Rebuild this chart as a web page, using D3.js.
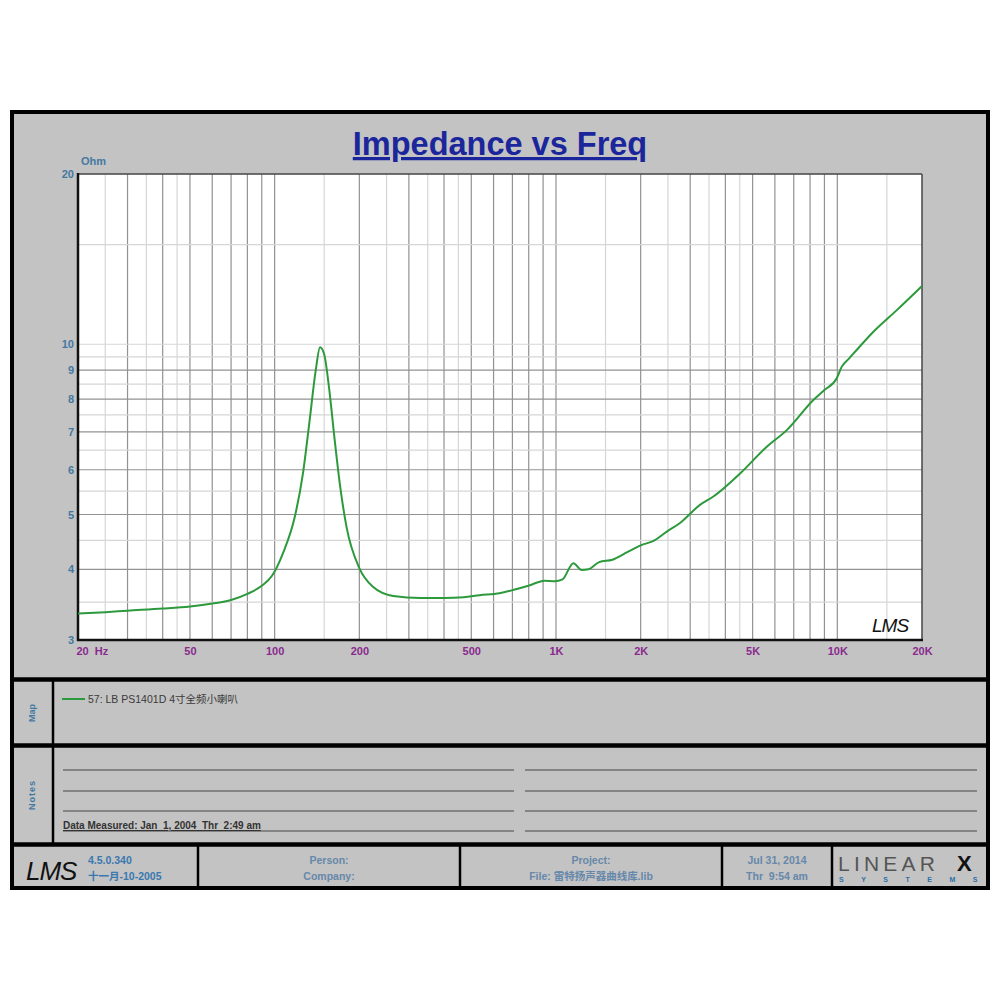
<!DOCTYPE html>
<html>
<head>
<meta charset="utf-8">
<script src="https://cdn.jsdelivr.net/npm/d3@7"></script>
<style>
  html, body { margin: 0; padding: 0; background: #fff; }
  svg { display: block; }
  text { font-family: "Liberation Sans", Arial, sans-serif; }
</style>
</head>
<body>
<svg id="chart" width="1000" height="1000"></svg>
<script>
// ---- data ----
const freqHz = [20, 25, 30, 40, 50, 60, 70, 80, 90, 98, 107, 118, 126, 133, 140, 145, 150, 156, 163, 171, 180, 200, 223, 264, 330, 400, 470, 535, 630, 708, 808, 910, 990, 1055, 1153, 1233, 1305, 1424, 1588, 1793, 2000, 2240, 2470, 2760, 3250, 3626, 4512, 5614, 6614, 8222, 9000, 9956, 10374, 11000, 12000, 13438, 16272, 20000];
const impedanceOhm = [3.34, 3.36, 3.38, 3.41, 3.44, 3.48, 3.53, 3.62, 3.74, 3.9, 4.27, 4.96, 5.9, 7.3, 9.0, 9.88, 9.6, 8.4, 6.86, 5.6, 4.76, 4.02, 3.73, 3.59, 3.56, 3.56, 3.57, 3.60, 3.63, 3.68, 3.75, 3.82, 3.81, 3.84, 4.10, 3.99, 4.0, 4.12, 4.16, 4.29, 4.41, 4.5, 4.66, 4.83, 5.2, 5.38, 5.91, 6.59, 7.05, 7.97, 8.3, 8.71, 9.13, 9.43, 9.9, 10.52, 11.49, 12.68];
const xTickValues = [20, 50, 100, 200, 500, 1000, 2000, 5000, 10000, 20000];
const xTickLabels = ["20  Hz", "50", "100", "200", "500", "1K", "2K", "5K", "10K", "20K"];
const yTickValues = [20, 10, 9, 8, 7, 6, 5, 4, 3];
const yTickLabels = ["20", "10", "9", "8", "7", "6", "5", "4", "3"];
const yGridMajor = [9, 8, 7, 6, 5, 4];
const yGridMinor = [15, 10, 9.5, 8.5, 7.5, 6.5, 5.5, 4.5, 3.5];
const xGridMajorMult = [1, 2, 3, 4, 5, 6, 7, 8, 9];
const xGridMinorMult = [1.5, 2.5, 3.5, 4.5];
const decades = [10, 100, 1000, 10000];
const legendLabel = "57: LB PS1401D 4寸全频小喇叭";
const noteText = "Data Measured: Jan  1, 2004  Thr  2:49 am";

const svg = d3.select("#chart");
const W = 1000, H = 1000;
svg.append("rect").attr("width", W).attr("height", H).attr("fill", "#fff");

// panel
const panel = { x: 12, y: 112, w: 976, h: 776 };
svg.append("rect").attr("x", panel.x).attr("y", panel.y).attr("width", panel.w).attr("height", panel.h)
  .attr("fill", "#c3c3c3").attr("stroke", "#000").attr("stroke-width", 4);

// plot area
const P = { l: 78, t: 174, r: 922, b: 640 };
const x = d3.scaleLog().domain([20, 20000]).range([P.l, P.r]);
const y = d3.scaleLog().domain([3, 20]).range([P.b, P.t]);

svg.append("rect").attr("x", P.l).attr("y", P.t).attr("width", P.r - P.l).attr("height", P.b - P.t).attr("fill", "#fff");

const grid = svg.append("g");
const vMinor = [], vMajor = [];
decades.forEach(d => {
  xGridMinorMult.forEach(m => { const f = m * d; if (f > 20 && f < 20000) vMinor.push(f); });
  xGridMajorMult.forEach(m => { const f = m * d; if (f > 20 && f < 20000) vMajor.push(f); });
});
grid.selectAll(".vmin").data(vMinor).join("line")
  .attr("x1", d => x(d)).attr("x2", d => x(d)).attr("y1", P.t).attr("y2", P.b)
  .attr("stroke", "#d6d6d6").attr("stroke-width", 1.2);
grid.selectAll(".vmaj").data(vMajor).join("line")
  .attr("x1", d => x(d)).attr("x2", d => x(d)).attr("y1", P.t).attr("y2", P.b)
  .attr("stroke", "#929292").attr("stroke-width", 1.2);
grid.selectAll(".hmin").data(yGridMinor).join("line")
  .attr("x1", P.l).attr("x2", P.r).attr("y1", d => y(d)).attr("y2", d => y(d))
  .attr("stroke", "#d6d6d6").attr("stroke-width", 1.2);
grid.selectAll(".hmaj").data(yGridMajor).join("line")
  .attr("x1", P.l).attr("x2", P.r).attr("y1", d => y(d)).attr("y2", d => y(d))
  .attr("stroke", "#929292").attr("stroke-width", 1.2);

// plot frame
svg.append("line").attr("x1", P.l).attr("x2", P.r).attr("y1", P.t).attr("y2", P.t).attr("stroke", "#444").attr("stroke-width", 1.5);
svg.append("line").attr("x1", P.r).attr("x2", P.r).attr("y1", P.t).attr("y2", P.b).attr("stroke", "#444").attr("stroke-width", 1.5);
svg.append("line").attr("x1", P.l).attr("x2", P.l).attr("y1", P.t - 1).attr("y2", P.b + 1).attr("stroke", "#111").attr("stroke-width", 2.5);
svg.append("line").attr("x1", P.l - 1).attr("x2", P.r + 1).attr("y1", P.b).attr("y2", P.b).attr("stroke", "#111").attr("stroke-width", 2.5);

// curve
const line = d3.line().x((d, i) => x(freqHz[i])).y(d => y(d)).curve(d3.curveMonotoneX);
svg.append("path").attr("d", line(impedanceOhm)).attr("fill", "none")
  .attr("stroke", "#2c9a3c").attr("stroke-width", 2).attr("stroke-linejoin", "round");

// axes
const xAxis = d3.axisBottom(x).tickValues(xTickValues).tickSize(0).tickPadding(0)
  .tickFormat((d, i) => xTickLabels[i]);
const gx = svg.append("g").attr("transform", `translate(0,${P.b + 15})`).call(xAxis);
gx.select(".domain").remove();
gx.selectAll("text").attr("dy", 0).attr("fill", "#8a2a8e").attr("font-size", 11).attr("font-weight", "bold")
  .style("font-family", '"Liberation Sans", Arial, sans-serif').style("white-space", "pre");
gx.selectAll(".tick").filter((d, i) => i === 0).select("text").attr("text-anchor", "start").attr("x", -2);

const yAxis = d3.axisLeft(y).tickValues(yTickValues).tickSize(0).tickPadding(0)
  .tickFormat((d, i) => yTickLabels[i]);
const gy = svg.append("g").attr("transform", `translate(${P.l - 4},0)`).call(yAxis);
gy.select(".domain").remove();
gy.selectAll("text").attr("fill", "#4479a2").attr("font-size", 11).attr("font-weight", "bold")
  .style("font-family", '"Liberation Sans", Arial, sans-serif');

svg.append("text").attr("x", 81).attr("y", 165).text("Ohm")
  .attr("fill", "#4479a2").attr("font-size", 11).attr("font-weight", "bold");

// title
svg.append("text").attr("x", 500).attr("y", 155).attr("text-anchor", "middle")
  .attr("font-size", 32.5).attr("font-weight", "bold").attr("fill", "#1b269c")
  .style("text-decoration", "underline").text("Impedance vs Freq");

// LMS mark in plot
svg.append("text").attr("x", 872).attr("y", 632).text("LMS")
  .attr("font-family", "DejaVu Sans").attr("font-style", "italic").attr("font-size", 19)
  .attr("fill", "#111").attr("font-weight", 300).attr("letter-spacing", -1);

// separators
const sepY = [679.5, 745.5, 844.5];
svg.selectAll(".sep").data(sepY).join("line")
  .attr("x1", 12).attr("x2", 988).attr("y1", d => d).attr("y2", d => d)
  .attr("stroke", "#000").attr("stroke-width", 4.5);
svg.append("line").attr("x1", 53).attr("x2", 53).attr("y1", 681).attr("y2", 843).attr("stroke", "#000").attr("stroke-width", 2.5);

// Map & Notes labels
svg.append("text").attr("transform", "translate(35,713) rotate(-90)").attr("text-anchor", "middle")
  .attr("font-size", 9).attr("font-weight", "bold").attr("fill", "#4479a2").text("Map");
svg.append("text").attr("transform", "translate(35,795) rotate(-90)").attr("text-anchor", "middle")
  .attr("font-size", 9).attr("font-weight", "bold").attr("fill", "#4479a2").attr("letter-spacing", 1).text("Notes");

// legend
svg.append("line").attr("x1", 62).attr("x2", 85).attr("y1", 699).attr("y2", 699).attr("stroke", "#2c9a3c").attr("stroke-width", 2);
svg.append("text").attr("x", 88).attr("y", 703).attr("font-size", 10.5).attr("fill", "#3a3a3a")
  .style("font-family", '"Liberation Sans", "Noto Sans CJK SC", sans-serif').text(legendLabel);

// notes lines
const noteLineY = [770, 791, 811, 831];
svg.selectAll(".nl").data(noteLineY).join("line")
  .attr("x1", 63).attr("x2", 514).attr("y1", d => d).attr("y2", d => d).attr("stroke", "#6f6f6f").attr("stroke-width", 1.5);
svg.selectAll(".nr").data(noteLineY).join("line")
  .attr("x1", 525).attr("x2", 977).attr("y1", d => d).attr("y2", d => d).attr("stroke", "#6f6f6f").attr("stroke-width", 1.5);
svg.append("text").attr("x", 63).attr("y", 829).attr("font-size", 10).attr("font-weight", "bold").attr("fill", "#333")
  .style("white-space", "pre").style("text-decoration", "underline").text(noteText);

// footer cells
const footDiv = [198, 460, 722, 832];
svg.selectAll(".fd").data(footDiv).join("line")
  .attr("x1", d => d).attr("x2", d => d).attr("y1", 846).attr("y2", 887).attr("stroke", "#000").attr("stroke-width", 2.5);

svg.append("text").attr("x", 26).attr("y", 880).text("LMS")
  .attr("font-family", "DejaVu Sans").attr("font-style", "italic").attr("font-size", 26)
  .attr("fill", "#111").attr("font-weight", 300).attr("letter-spacing", -1);

const footBlue = "#3a78b0", footGray = "#6688aa";
svg.append("text").attr("x", 88).attr("y", 864).attr("font-size", 10.5).attr("font-weight", "bold").attr("fill", footBlue).text("4.5.0.340");
svg.append("text").attr("x", 88).attr("y", 880).attr("font-size", 10.5).attr("font-weight", "bold").attr("fill", footBlue)
  .style("font-family", '"Liberation Sans", "Noto Sans CJK SC", sans-serif').text("十一月-10-2005");

const centerTexts = [
  { cx: 329, y: 864, t: "Person:" }, { cx: 329, y: 880, t: "Company:" },
  { cx: 591, y: 864, t: "Project:" }, { cx: 591, y: 880, t: "File: 雷特扬声器曲线库.lib" },
  { cx: 777, y: 864, t: "Jul 31, 2014" }, { cx: 777, y: 880, t: "Thr  9:54 am" }
];
svg.selectAll(".ct").data(centerTexts).join("text")
  .attr("x", d => d.cx).attr("y", d => d.y).attr("text-anchor", "middle")
  .attr("font-size", 10.5).attr("font-weight", "bold").attr("fill", footGray)
  .style("font-family", '"Liberation Sans", "Noto Sans CJK SC", sans-serif')
  .style("white-space", "pre").text(d => d.t);

// LINEARX logo
svg.append("text").attr("x", 838).attr("y", 871).attr("font-family", "Liberation Serif").attr("font-size", 21)
  .attr("fill", "#555").attr("letter-spacing", 4.2).text("LINEAR");
svg.append("text").attr("x", 957).attr("y", 871).attr("font-family", "Liberation Sans").attr("font-weight", "bold")
  .attr("font-size", 22).attr("fill", "#111").text("X");
svg.append("text").attr("x", 839).attr("y", 882).attr("font-family", "Liberation Sans").attr("font-weight", "bold")
  .attr("font-size", 7).attr("fill", "#2d6fa8").attr("letter-spacing", 17.5).text("SYSTEMS");
</script>
</body>
</html>
